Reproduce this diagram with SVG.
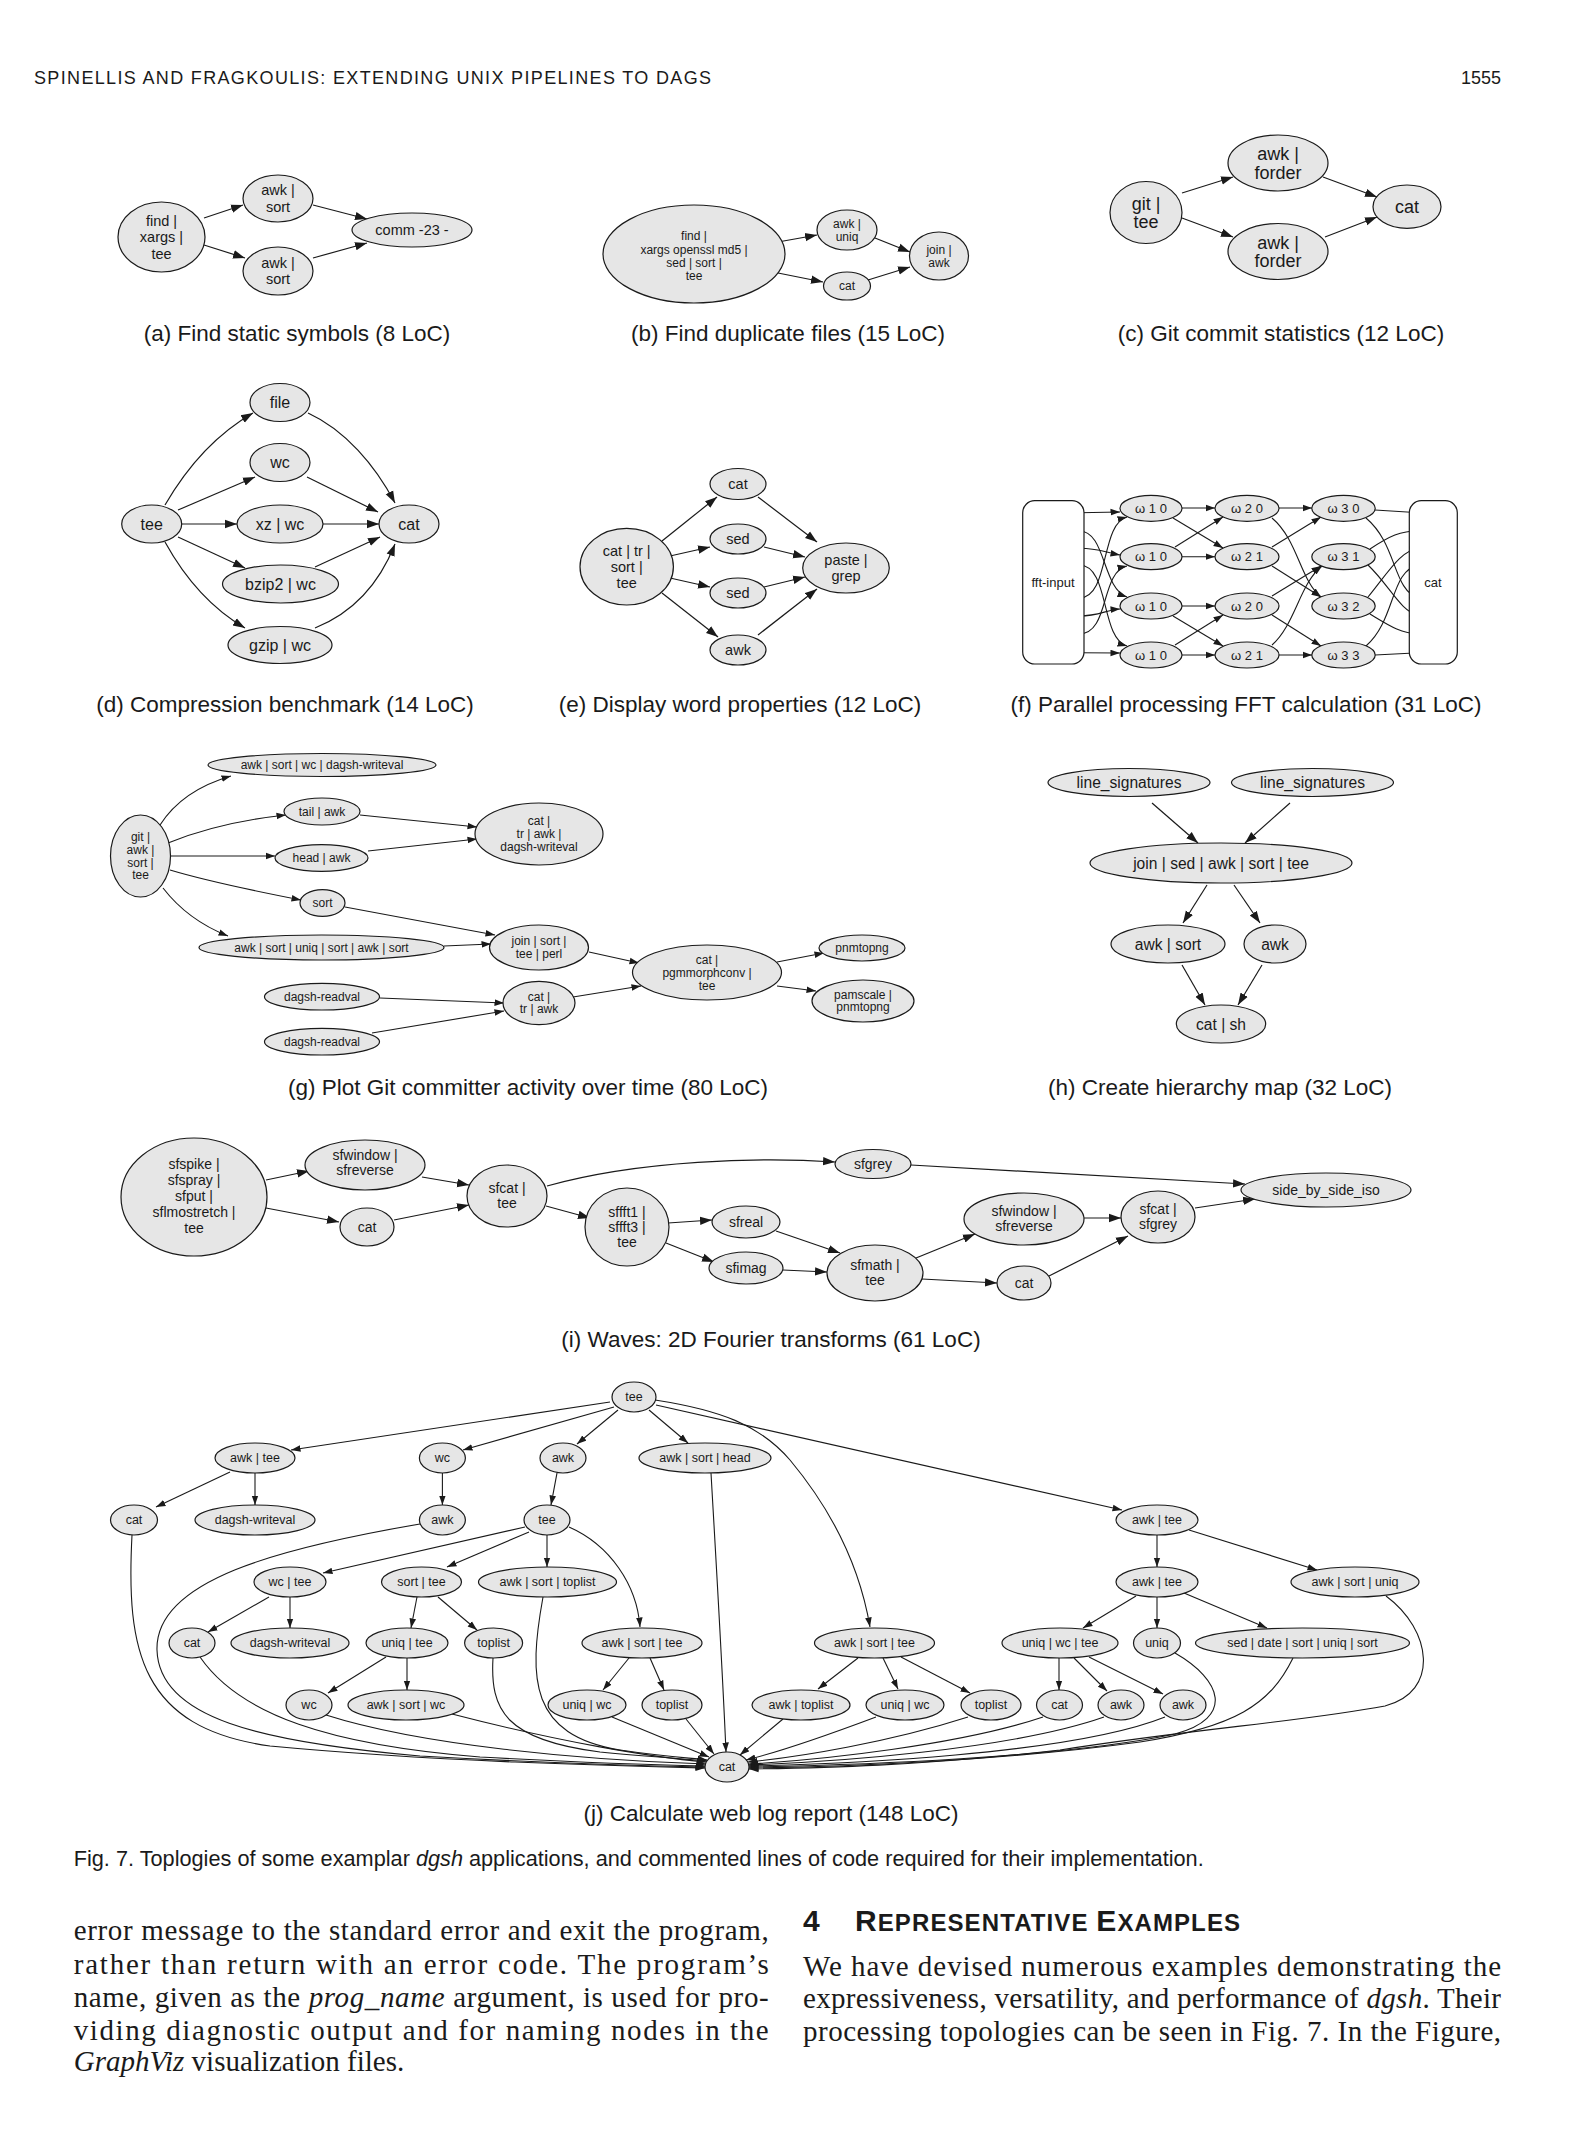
<svg xmlns="http://www.w3.org/2000/svg" width="1569" height="2142" viewBox="0 0 1569 2142">
<defs>
<style>
.n{fill:#e6e6e6;stroke:#1a1a1a;stroke-width:1.2}
.r{fill:#ffffff;stroke:#1a1a1a;stroke-width:1.2}
.e{fill:none;stroke:#1a1a1a;stroke-width:1.2;marker-end:url(#ah)}
.s{fill:none;stroke:#1a1a1a;stroke-width:1.1;marker-end:url(#as)}
text{font-family:"Liberation Sans",Arial,Helvetica,sans-serif;fill:#1a1a1a}
.l{text-anchor:middle}
.fa{font-size:14.5px}
.fb{font-size:12px}
.fc{font-size:18px}
.fd{font-size:16px}
.ff{font-size:13px}
.fg{font-size:12px}
.fh{font-size:15.6px}
.fi{font-size:14px}
.fj{font-size:12.5px}
.cap{font-size:22.5px;text-anchor:middle}
.body{font-family:"Liberation Serif","Times New Roman",serif;font-size:29px}
</style>
<marker id="ah" markerUnits="userSpaceOnUse" markerWidth="13" markerHeight="10" refX="12" refY="5" orient="auto"><path d="M0,0.8 L12,5 L0,9.2z" fill="#1a1a1a"/></marker>
<marker id="as" markerUnits="userSpaceOnUse" markerWidth="10" markerHeight="8" refX="9.5" refY="4" orient="auto"><path d="M0,0.7 L9.5,4 L0,7.3z" fill="#1a1a1a"/></marker>
</defs>
<rect width="1569" height="2142" fill="#ffffff"/>

<text x="34" y="84" font-size="18" textLength="677" lengthAdjust="spacing">SPINELLIS AND FRAGKOULIS: EXTENDING UNIX PIPELINES TO DAGS</text>
<text x="1501" y="84" font-size="18" text-anchor="end">1555</text>

<!-- (a) -->
<g id="edges-a">
<path class="e" d="M204,218 L243,205"/>
<path class="e" d="M204,245 L245,258"/>
<path class="e" d="M313,205 L367,219"/>
<path class="e" d="M313,258 L367,243"/>
</g>
<g id="a-find"><ellipse class="n" cx="161.5" cy="237" rx="43.5" ry="35"/><text class="l fa" x="161.5" y="226"><tspan x="161.5">find |</tspan><tspan x="161.5" dy="16.3">xargs |</tspan><tspan x="161.5" dy="16.3">tee</tspan></text></g>
<g id="a-awk1"><ellipse class="n" cx="278" cy="198.5" rx="35" ry="23.5"/><text class="l fa" x="278" y="195.4"><tspan x="278">awk |</tspan><tspan x="278" dy="16.3">sort</tspan></text></g>
<g id="a-awk2"><ellipse class="n" cx="278" cy="271" rx="35" ry="24"/><text class="l fa" x="278" y="267.9"><tspan x="278">awk |</tspan><tspan x="278" dy="16.3">sort</tspan></text></g>
<g id="a-comm"><ellipse class="n" cx="412" cy="230" rx="60" ry="17"/><text class="l fa" x="412" y="235">comm -23 -</text></g>
<text class="cap" x="297" y="341">(a) Find static symbols (8 LoC)</text>

<!-- (b) -->
<g id="edges-b">
<path class="e" d="M778,242 L817,235"/>
<path class="e" d="M778,273 L823,282"/>
<path class="e" d="M875,238 L910,252"/>
<path class="e" d="M868,280 L910,267"/>
</g>
<g id="b-find"><ellipse class="n" cx="694" cy="254" rx="91" ry="49"/><text class="l fb" x="694" y="240.2"><tspan x="694">find |</tspan><tspan x="694" dy="13.3">xargs openssl md5 |</tspan><tspan x="694" dy="13.3">sed | sort |</tspan><tspan x="694" dy="13.3">tee</tspan></text></g>
<g id="b-awk"><ellipse class="n" cx="847" cy="230" rx="30" ry="20"/><text class="l fb" x="847" y="227.6"><tspan x="847">awk |</tspan><tspan x="847" dy="13.3">uniq</tspan></text></g>
<g id="b-cat"><ellipse class="n" cx="847" cy="286" rx="23.5" ry="14"/><text class="l fb" x="847" y="290.2">cat</text></g>
<g id="b-join"><ellipse class="n" cx="939" cy="256" rx="29.5" ry="24"/><text class="l fb" x="939" y="253.6"><tspan x="939">join |</tspan><tspan x="939" dy="13.3">awk</tspan></text></g>
<text class="cap" x="788" y="341">(b) Find duplicate files (15 LoC)</text>

<!-- (c) -->
<g id="edges-c">
<path class="e" d="M1182,193 L1233,177"/>
<path class="e" d="M1182,218 L1233,237"/>
<path class="e" d="M1323,177 L1377,197"/>
<path class="e" d="M1325,237 L1377,217"/>
</g>
<g id="c-git"><ellipse class="n" cx="1146" cy="212.5" rx="36" ry="31"/><text class="l fc" x="1146" y="209.6"><tspan x="1146">git |</tspan><tspan x="1146" dy="18.3">tee</tspan></text></g>
<g id="c-awk1"><ellipse class="n" cx="1278" cy="163" rx="50" ry="28"/><text class="l fc" x="1278" y="160.2"><tspan x="1278">awk |</tspan><tspan x="1278" dy="18.3">forder</tspan></text></g>
<g id="c-awk2"><ellipse class="n" cx="1278" cy="251.5" rx="50" ry="28"/><text class="l fc" x="1278" y="248.6"><tspan x="1278">awk |</tspan><tspan x="1278" dy="18.3">forder</tspan></text></g>
<g id="c-cat"><ellipse class="n" cx="1407" cy="206.7" rx="34" ry="21.7"/><text class="l fc" x="1407" y="213">cat</text></g>
<text class="cap" x="1281" y="341">(c) Git commit statistics (12 LoC)</text>

<!-- (d) -->
<g id="edges-d">
<path class="e" d="M165,505 C190,462 220,432 253,413"/>
<path class="e" d="M178,510 L255,477"/>
<path class="e" d="M182,524 L237,524"/>
<path class="e" d="M178,537 L245,568"/>
<path class="e" d="M165,542 C186,580 214,610 245,628"/>
<path class="e" d="M308,413 C345,430 375,465 395,503"/>
<path class="e" d="M307,477 L378,512"/>
<path class="e" d="M323,524 L379,524"/>
<path class="e" d="M315,567 L380,537"/>
<path class="e" d="M315,628 C355,612 380,582 395,544"/>
</g>
<g id="d-file"><ellipse class="n" cx="280" cy="402.5" rx="30" ry="19"/><text class="l fd" x="280" y="408">file</text></g>
<g id="d-wc"><ellipse class="n" cx="280" cy="462.5" rx="30" ry="19"/><text class="l fd" x="280" y="468">wc</text></g>
<g id="d-tee"><ellipse class="n" cx="151.7" cy="524" rx="30" ry="19"/><text class="l fd" x="151.7" y="529.6">tee</text></g>
<g id="d-xz"><ellipse class="n" cx="280" cy="524" rx="43" ry="19"/><text class="l fd" x="280" y="529.6">xz | wc</text></g>
<g id="d-cat"><ellipse class="n" cx="409" cy="524" rx="30" ry="19"/><text class="l fd" x="409" y="529.6">cat</text></g>
<g id="d-bzip2"><ellipse class="n" cx="280.5" cy="584" rx="58" ry="19"/><text class="l fd" x="280.5" y="589.6">bzip2 | wc</text></g>
<g id="d-gzip"><ellipse class="n" cx="280" cy="645" rx="52" ry="18.5"/><text class="l fd" x="280" y="650.6">gzip | wc</text></g>
<text class="cap" x="285" y="712">(d) Compression benchmark (14 LoC)</text>

<!-- (e) -->
<g id="edges-e">
<path class="e" d="M662,541 L717,497"/>
<path class="e" d="M670,556 L710,547"/>
<path class="e" d="M670,578 L710,587"/>
<path class="e" d="M662,593 L718,637"/>
<path class="e" d="M758,497 L817,542"/>
<path class="e" d="M764,547 L805,557"/>
<path class="e" d="M764,587 L805,577"/>
<path class="e" d="M758,635 L817,589"/>
</g>
<g id="e-main"><ellipse class="n" cx="626.7" cy="566.7" rx="46.7" ry="38.3"/><text class="l fa" x="626.7" y="555.7"><tspan x="626.7">cat | tr |</tspan><tspan x="626.7" dy="16">sort |</tspan><tspan x="626.7" dy="16">tee</tspan></text></g>
<g id="e-cat"><ellipse class="n" cx="738" cy="484" rx="28" ry="15.5"/><text class="l fa" x="738" y="489">cat</text></g>
<g id="e-sed1"><ellipse class="n" cx="738" cy="539" rx="28" ry="15"/><text class="l fa" x="738" y="544">sed</text></g>
<g id="e-sed2"><ellipse class="n" cx="738" cy="593" rx="28" ry="15"/><text class="l fa" x="738" y="598">sed</text></g>
<g id="e-awk"><ellipse class="n" cx="738" cy="650" rx="28" ry="15"/><text class="l fa" x="738" y="655">awk</text></g>
<g id="e-paste"><ellipse class="n" cx="846" cy="568" rx="43.3" ry="25"/><text class="l fa" x="846" y="565"><tspan x="846">paste |</tspan><tspan x="846" dy="16">grep</tspan></text></g>
<text class="cap" x="740" y="712">(e) Display word properties (12 LoC)</text>

<!-- (f) -->
<g id="edges-f">
<path class="s" d="M1079,512.7 L1120,512"/>
<path class="s" d="M1079,530.7 C1106,531 1102,588 1127,597"/>
<path class="s" d="M1079,548.3 C1096,548 1104,552 1120,555"/>
<path class="s" d="M1079,565 C1110,565 1100,638 1127,646"/>
<path class="s" d="M1079,598.3 C1110,598 1100,524 1127,517"/>
<path class="s" d="M1079,616 C1100,616 1105,610 1120,609"/>
<path class="s" d="M1079,634 C1110,634 1100,572 1127,566"/>
<path class="s" d="M1079,652.7 L1120,653"/>
<path class="s" d="M1182,508 L1215,508"/>
<path class="s" d="M1173,518 L1223,548"/>
<path class="s" d="M1175,547 L1223,517"/>
<path class="s" d="M1182,556.7 L1215,556.7"/>
<path class="s" d="M1182,606 L1215,606"/>
<path class="s" d="M1173,616 L1223,646"/>
<path class="s" d="M1175,645 L1223,615"/>
<path class="s" d="M1182,655 L1215,655"/>
<path class="s" d="M1279,508 L1312,508"/>
<path class="s" d="M1272,518 C1298,540 1300,580 1321,597"/>
<path class="s" d="M1272,547 L1321,517"/>
<path class="s" d="M1272,566 L1321,597"/>
<path class="s" d="M1272,596 L1321,566"/>
<path class="s" d="M1272,615 L1321,646"/>
<path class="s" d="M1272,645 C1295,625 1300,583 1322,566"/>
<path class="s" d="M1279,655 L1312,655"/>
<path class="s" d="M1375,510 L1419,512.7"/>
<path class="s" d="M1366,518 C1398,545 1392,590 1419,598.3"/>
<path class="s" d="M1370,549 C1390,536 1400,531 1419,530.7"/>
<path class="s" d="M1368,565 C1390,586 1400,611 1419,616"/>
<path class="s" d="M1368,597 C1390,570 1400,551 1419,548.3"/>
<path class="s" d="M1370,614 C1390,626 1400,633 1419,634"/>
<path class="s" d="M1366,646 C1396,620 1390,570 1419,565"/>
<path class="s" d="M1375,655 L1419,652.7"/>
</g>
<g id="f-input"><rect class="r" x="1022.7" y="500.7" width="61.3" height="163.3" rx="12"/><text class="l ff" x="1053" y="586.5">fft-input</text></g>
<g id="f-n10a"><ellipse class="n" cx="1151" cy="508.3" rx="31" ry="13"/><text class="l ff" x="1151" y="512.9">ω 1 0</text></g>
<g id="f-n10b"><ellipse class="n" cx="1151" cy="556.7" rx="31" ry="13"/><text class="l ff" x="1151" y="561.3">ω 1 0</text></g>
<g id="f-n10c"><ellipse class="n" cx="1151" cy="606" rx="31" ry="13"/><text class="l ff" x="1151" y="610.6">ω 1 0</text></g>
<g id="f-n10d"><ellipse class="n" cx="1151" cy="655" rx="31" ry="13"/><text class="l ff" x="1151" y="659.6">ω 1 0</text></g>
<g id="f-n20a"><ellipse class="n" cx="1247" cy="508.3" rx="32" ry="13"/><text class="l ff" x="1247" y="512.9">ω 2 0</text></g>
<g id="f-n21a"><ellipse class="n" cx="1247" cy="556.7" rx="32" ry="13"/><text class="l ff" x="1247" y="561.3">ω 2 1</text></g>
<g id="f-n20b"><ellipse class="n" cx="1247" cy="606" rx="32" ry="13"/><text class="l ff" x="1247" y="610.6">ω 2 0</text></g>
<g id="f-n21b"><ellipse class="n" cx="1247" cy="655" rx="32" ry="13"/><text class="l ff" x="1247" y="659.6">ω 2 1</text></g>
<g id="f-n30"><ellipse class="n" cx="1343.5" cy="508.3" rx="31.7" ry="13"/><text class="l ff" x="1343.5" y="512.9">ω 3 0</text></g>
<g id="f-n31"><ellipse class="n" cx="1343.5" cy="556.7" rx="31.7" ry="13"/><text class="l ff" x="1343.5" y="561.3">ω 3 1</text></g>
<g id="f-n32"><ellipse class="n" cx="1343.5" cy="606" rx="31.7" ry="13"/><text class="l ff" x="1343.5" y="610.6">ω 3 2</text></g>
<g id="f-n33"><ellipse class="n" cx="1343.5" cy="655" rx="31.7" ry="13"/><text class="l ff" x="1343.5" y="659.6">ω 3 3</text></g>
<g id="f-cat"><rect class="r" x="1409.3" y="500.7" width="48" height="163.3" rx="12"/><text class="l ff" x="1433" y="586.5">cat</text></g>
<text class="cap" x="1246" y="712">(f) Parallel processing FFT calculation (31 LoC)</text>

<!-- (g) -->
<g id="edges-g">
<path class="s" d="M160,825 C176,800 200,785 231,776"/>
<path class="s" d="M168,843 C200,830 240,820 286,815"/>
<path class="s" d="M171,856 L275,856"/>
<path class="s" d="M170,870 C210,882 260,892 301,900"/>
<path class="s" d="M163,888 C180,910 200,925 228,936"/>
<path class="s" d="M360,815 L477,827"/>
<path class="s" d="M368,851 L477,839"/>
<path class="s" d="M345,907 L495,935"/>
<path class="s" d="M444,946 L491,944"/>
<path class="s" d="M589,952 L639,963"/>
<path class="s" d="M380,998 L504,1003"/>
<path class="s" d="M372,1033 L504,1011"/>
<path class="s" d="M573,997 L641,986"/>
<path class="s" d="M777,962 L824,953"/>
<path class="s" d="M777,986 L816,991"/>
</g>
<g id="g-git"><ellipse class="n" cx="140.5" cy="856" rx="30" ry="41"/><text class="l fg" x="140.5" y="841"><tspan x="140.5">git |</tspan><tspan x="140.5" dy="12.8">awk |</tspan><tspan x="140.5" dy="12.8">sort |</tspan><tspan x="140.5" dy="12.8">tee</tspan></text></g>
<g id="g-wc"><ellipse class="n" cx="322" cy="765" rx="114" ry="11.5"/><text class="l fg" x="322" y="769.2">awk | sort | wc | dagsh-writeval</text></g>
<g id="g-tail"><ellipse class="n" cx="322" cy="811.5" rx="38" ry="13.5"/><text class="l fg" x="322" y="815.7">tail | awk</text></g>
<g id="g-head"><ellipse class="n" cx="321.5" cy="858" rx="46.5" ry="13.3"/><text class="l fg" x="321.5" y="862.2">head | awk</text></g>
<g id="g-cattr"><ellipse class="n" cx="539" cy="834" rx="64" ry="31"/><text class="l fg" x="539" y="825.4"><tspan x="539">cat |</tspan><tspan x="539" dy="12.8">tr | awk |</tspan><tspan x="539" dy="12.8">dagsh-writeval</tspan></text></g>
<g id="g-sort"><ellipse class="n" cx="322.5" cy="903" rx="22.5" ry="13.3"/><text class="l fg" x="322.5" y="907.2">sort</text></g>
<g id="g-uniq"><ellipse class="n" cx="321.5" cy="947.5" rx="122.5" ry="12.5"/><text class="l fg" x="321.5" y="951.7">awk | sort | uniq | sort | awk | sort</text></g>
<g id="g-join"><ellipse class="n" cx="539" cy="947.5" rx="49.5" ry="22.5"/><text class="l fg" x="539" y="945.1"><tspan x="539">join | sort |</tspan><tspan x="539" dy="12.8">tee | perl</tspan></text></g>
<g id="g-pgm"><ellipse class="n" cx="707" cy="972.5" rx="74.5" ry="27.5"/><text class="l fg" x="707" y="963.9"><tspan x="707">cat |</tspan><tspan x="707" dy="12.8">pgmmorphconv |</tspan><tspan x="707" dy="12.8">tee</tspan></text></g>
<g id="g-pnm"><ellipse class="n" cx="862" cy="948" rx="43" ry="13"/><text class="l fg" x="862" y="952.2">pnmtopng</text></g>
<g id="g-pam"><ellipse class="n" cx="863" cy="1001" rx="51" ry="21"/><text class="l fg" x="863" y="998.6"><tspan x="863">pamscale |</tspan><tspan x="863" dy="12.8">pnmtopng</tspan></text></g>
<g id="g-rv1"><ellipse class="n" cx="322" cy="996.7" rx="57.5" ry="13.3"/><text class="l fg" x="322" y="1000.9">dagsh-readval</text></g>
<g id="g-rv2"><ellipse class="n" cx="322" cy="1041.7" rx="57.5" ry="13.3"/><text class="l fg" x="322" y="1045.9">dagsh-readval</text></g>
<g id="g-cat"><ellipse class="n" cx="539" cy="1003" rx="36" ry="21.7"/><text class="l fg" x="539" y="1000.6"><tspan x="539">cat |</tspan><tspan x="539" dy="12.8">tr | awk</tspan></text></g>
<text class="cap" x="528" y="1095">(g) Plot Git committer activity over time (80 LoC)</text>

<!-- (h) -->
<g id="edges-h">
<path class="e" d="M1152,803 L1198,843"/>
<path class="e" d="M1290,803 L1245,843"/>
<path class="e" d="M1207,885 L1183,923"/>
<path class="e" d="M1234,885 L1260,923"/>
<path class="e" d="M1182,965 L1205,1005"/>
<path class="e" d="M1262,965 L1238,1005"/>
</g>
<g id="h-ls1"><ellipse class="n" cx="1129" cy="782.5" rx="81" ry="14"/><text class="l fh" x="1129" y="788">line_signatures</text></g>
<g id="h-ls2"><ellipse class="n" cx="1312.5" cy="782.5" rx="81" ry="14"/><text class="l fh" x="1312.5" y="788">line_signatures</text></g>
<g id="h-join"><ellipse class="n" cx="1221" cy="863" rx="131" ry="20"/><text class="l fh" x="1221" y="868.5">join | sed | awk | sort | tee</text></g>
<g id="h-awksort"><ellipse class="n" cx="1168" cy="944" rx="57" ry="19"/><text class="l fh" x="1168" y="949.5">awk | sort</text></g>
<g id="h-awk"><ellipse class="n" cx="1275" cy="944" rx="31" ry="19"/><text class="l fh" x="1275" y="949.5">awk</text></g>
<g id="h-cat"><ellipse class="n" cx="1221" cy="1024" rx="44.7" ry="19"/><text class="l fh" x="1221" y="1029.5">cat | sh</text></g>
<text class="cap" x="1220" y="1095">(h) Create hierarchy map (32 LoC)</text>

<!-- (i) -->
<g id="edges-i">
<path class="e" d="M266,1180 L309,1171"/>
<path class="e" d="M266,1208 L339,1222"/>
<path class="e" d="M422,1177 L469,1185"/>
<path class="e" d="M394,1220 L469,1205"/>
<path class="e" d="M547,1186 C640,1160 760,1157 835,1162"/>
<path class="e" d="M546,1206 L590,1218"/>
<path class="e" d="M911,1165 L1245,1184"/>
<path class="e" d="M668,1223 L712,1220"/>
<path class="e" d="M666,1243 L714,1262"/>
<path class="e" d="M776,1231 L840,1253"/>
<path class="e" d="M783,1270 L827,1272"/>
<path class="e" d="M916,1258 L975,1234"/>
<path class="e" d="M922,1279 L997,1283"/>
<path class="e" d="M1084,1218 L1121,1218"/>
<path class="e" d="M1049,1276 L1128,1236"/>
<path class="e" d="M1195,1208 L1255,1199"/>
</g>
<g id="i-sfspike"><ellipse class="n" cx="194" cy="1197" rx="73" ry="59"/><text class="l fi" x="194" y="1168.5"><tspan x="194">sfspike |</tspan><tspan x="194" dy="16">sfspray |</tspan><tspan x="194" dy="16">sfput |</tspan><tspan x="194" dy="16">sflmostretch |</tspan><tspan x="194" dy="16">tee</tspan></text></g>
<g id="i-sfwindow1"><ellipse class="n" cx="365" cy="1165" rx="60" ry="25"/><text class="l fi" x="365" y="1160.4"><tspan x="365">sfwindow |</tspan><tspan x="365" dy="15">sfreverse</tspan></text></g>
<g id="i-cat1"><ellipse class="n" cx="367" cy="1227" rx="27" ry="19"/><text class="l fi" x="367" y="1231.9">cat</text></g>
<g id="i-sfcat1"><ellipse class="n" cx="507" cy="1196" rx="40" ry="31"/><text class="l fi" x="507" y="1193.4"><tspan x="507">sfcat |</tspan><tspan x="507" dy="15">tee</tspan></text></g>
<g id="i-sfgrey"><ellipse class="n" cx="873" cy="1164" rx="38" ry="14.5"/><text class="l fi" x="873" y="1168.9">sfgrey</text></g>
<g id="i-side"><ellipse class="n" cx="1326" cy="1190" rx="85" ry="17"/><text class="l fi" x="1326" y="1194.9">side_by_side_iso</text></g>
<g id="i-sffft"><ellipse class="n" cx="627" cy="1227" rx="42" ry="39"/><text class="l fi" x="627" y="1216.9"><tspan x="627">sffft1 |</tspan><tspan x="627" dy="15">sffft3 |</tspan><tspan x="627" dy="15">tee</tspan></text></g>
<g id="i-sfreal"><ellipse class="n" cx="746" cy="1222" rx="34" ry="16"/><text class="l fi" x="746" y="1226.9">sfreal</text></g>
<g id="i-sfimag"><ellipse class="n" cx="746" cy="1268" rx="37" ry="16"/><text class="l fi" x="746" y="1272.9">sfimag</text></g>
<g id="i-sfmath"><ellipse class="n" cx="875" cy="1273" rx="48" ry="28"/><text class="l fi" x="875" y="1270.4"><tspan x="875">sfmath |</tspan><tspan x="875" dy="15">tee</tspan></text></g>
<g id="i-sfwindow2"><ellipse class="n" cx="1024" cy="1219" rx="60" ry="26"/><text class="l fi" x="1024" y="1216.4"><tspan x="1024">sfwindow |</tspan><tspan x="1024" dy="15">sfreverse</tspan></text></g>
<g id="i-cat2"><ellipse class="n" cx="1024" cy="1283" rx="27" ry="17"/><text class="l fi" x="1024" y="1287.9">cat</text></g>
<g id="i-sfcat2"><ellipse class="n" cx="1158" cy="1217" rx="37" ry="26"/><text class="l fi" x="1158" y="1214.4"><tspan x="1158">sfcat |</tspan><tspan x="1158" dy="15">sfgrey</tspan></text></g>
<text class="cap" x="771" y="1347">(i) Waves: 2D Fourier transforms (61 LoC)</text>

<!-- (j) -->
<g id="edges-j">
<path class="s" d="M610,1402 L291,1450"/>
<path class="s" d="M614,1407 L463,1450"/>
<path class="s" d="M618,1410 L577,1444"/>
<path class="s" d="M649,1410 L688,1443"/>
<path class="s" d="M655,1400 C720,1410 760,1425 790,1460 C840,1520 862,1580 870,1627"/>
<path class="s" d="M656,1405 L1122,1510"/>
<path class="s" d="M230,1472 L156,1507"/>
<path class="s" d="M255,1473 L255,1505"/>
<path class="s" d="M442.4,1473 L442.4,1505"/>
<path class="s" d="M557,1473 L551,1505"/>
<path class="s" d="M525,1527 L323,1573"/>
<path class="s" d="M529,1532 L447,1567"/>
<path class="s" d="M547,1535 L547,1567"/>
<path class="s" d="M569,1527 C610,1545 637,1585 640,1627"/>
<path class="s" d="M269,1597 L208,1632"/>
<path class="s" d="M290,1597 L290,1628"/>
<path class="s" d="M417,1597 L411,1628"/>
<path class="s" d="M438,1597 L477,1630"/>
<path class="s" d="M386,1657 L328,1693"/>
<path class="s" d="M407,1658 L407,1690"/>
<path class="s" d="M629,1658 L603,1690"/>
<path class="s" d="M650,1658 L664,1690"/>
<path class="s" d="M1157,1535 L1157,1567"/>
<path class="s" d="M1189,1530 L1317,1570"/>
<path class="s" d="M1136,1596 L1083,1628"/>
<path class="s" d="M1157,1597 L1157,1628"/>
<path class="s" d="M1184,1593 L1267,1628"/>
<path class="s" d="M858,1658 L818,1689"/>
<path class="s" d="M883,1658 L898,1689"/>
<path class="s" d="M901,1657 L970,1693"/>
<path class="s" d="M1059,1658 L1059,1690"/>
<path class="s" d="M1074,1658 L1107,1691"/>
<path class="s" d="M1089,1657 L1163,1694"/>
<path class="s" d="M132,1535 C126,1650 140,1728 270,1746 C440,1762 620,1766 705,1768"/>
<path class="s" d="M420,1524 C280,1548 155,1580 157,1650 C159,1718 260,1742 420,1756 C560,1764 650,1766 705,1767"/>
<path class="s" d="M200,1657 C240,1715 330,1745 480,1757 C590,1763 660,1765 705,1766"/>
<path class="s" d="M326,1715 C420,1745 580,1760 706,1764"/>
<path class="s" d="M452,1714 C560,1742 650,1757 706,1762"/>
<path class="s" d="M493,1658 C490,1710 505,1740 600,1752 C650,1757 690,1759 707,1761"/>
<path class="s" d="M543,1597 C528,1680 530,1735 620,1750 C660,1756 690,1758 707,1760"/>
<path class="s" d="M612,1717 L709,1757"/>
<path class="s" d="M686,1719 L714,1754"/>
<path class="s" d="M711,1473 C716,1560 722,1660 726,1752"/>
<path class="s" d="M783,1719 L740,1755"/>
<path class="s" d="M876,1717 C820,1738 775,1753 746,1760"/>
<path class="s" d="M968,1717 C890,1742 800,1757 748,1762"/>
<path class="s" d="M1043,1717 C960,1745 820,1760 749,1764"/>
<path class="s" d="M1104,1717 C1010,1750 830,1762 749,1765"/>
<path class="s" d="M1165,1717 C1070,1755 840,1764 749,1766"/>
<path class="s" d="M1175,1653 C1222,1680 1235,1718 1175,1734 C1060,1758 860,1765 749,1767"/>
<path class="s" d="M1293,1658 C1270,1705 1235,1727 1140,1742 C1000,1761 840,1767 749,1768"/>
<path class="s" d="M1386,1596 C1432,1630 1440,1692 1385,1706 C1300,1722 1200,1728 1060,1750 C920,1766 820,1768 749,1769"/>
</g>
<g id="j-tee0"><ellipse class="n" cx="634" cy="1397" rx="22" ry="15"/><text class="l fj" x="634" y="1401.4">tee</text></g>
<g id="j-awktee1"><ellipse class="n" cx="255" cy="1458" rx="40" ry="15"/><text class="l fj" x="255" y="1462.4">awk | tee</text></g>
<g id="j-wc1"><ellipse class="n" cx="442.4" cy="1458" rx="23" ry="15"/><text class="l fj" x="442.4" y="1462.4">wc</text></g>
<g id="j-awk1"><ellipse class="n" cx="563" cy="1458" rx="23" ry="15"/><text class="l fj" x="563" y="1462.4">awk</text></g>
<g id="j-head"><ellipse class="n" cx="705" cy="1458" rx="66" ry="15"/><text class="l fj" x="705" y="1462.4">awk | sort | head</text></g>
<g id="j-cat2"><ellipse class="n" cx="134" cy="1520" rx="23.5" ry="15"/><text class="l fj" x="134" y="1524.4">cat</text></g>
<g id="j-dw2"><ellipse class="n" cx="255" cy="1520" rx="60" ry="15"/><text class="l fj" x="255" y="1524.4">dagsh-writeval</text></g>
<g id="j-awk2"><ellipse class="n" cx="442.4" cy="1520" rx="23" ry="15"/><text class="l fj" x="442.4" y="1524.4">awk</text></g>
<g id="j-tee2"><ellipse class="n" cx="547" cy="1520" rx="23" ry="15"/><text class="l fj" x="547" y="1524.4">tee</text></g>
<g id="j-awktee2"><ellipse class="n" cx="1157" cy="1520" rx="41" ry="15"/><text class="l fj" x="1157" y="1524.4">awk | tee</text></g>
<g id="j-wctee"><ellipse class="n" cx="290" cy="1582" rx="36" ry="15"/><text class="l fj" x="290" y="1586.4">wc | tee</text></g>
<g id="j-sorttee"><ellipse class="n" cx="421.5" cy="1582" rx="40" ry="15"/><text class="l fj" x="421.5" y="1586.4">sort | tee</text></g>
<g id="j-toplist3"><ellipse class="n" cx="547.5" cy="1582" rx="69" ry="15"/><text class="l fj" x="547.5" y="1586.4">awk | sort | toplist</text></g>
<g id="j-awktee3"><ellipse class="n" cx="1157" cy="1582" rx="41" ry="15"/><text class="l fj" x="1157" y="1586.4">awk | tee</text></g>
<g id="j-sortuniq"><ellipse class="n" cx="1355" cy="1582" rx="64" ry="15"/><text class="l fj" x="1355" y="1586.4">awk | sort | uniq</text></g>
<g id="j-cat4"><ellipse class="n" cx="192" cy="1643" rx="23" ry="15"/><text class="l fj" x="192" y="1647.4">cat</text></g>
<g id="j-dw4"><ellipse class="n" cx="290" cy="1643" rx="59" ry="15"/><text class="l fj" x="290" y="1647.4">dagsh-writeval</text></g>
<g id="j-uniqtee"><ellipse class="n" cx="407" cy="1643" rx="41" ry="15"/><text class="l fj" x="407" y="1647.4">uniq | tee</text></g>
<g id="j-toplist4"><ellipse class="n" cx="493.6" cy="1643" rx="29" ry="15"/><text class="l fj" x="493.6" y="1647.4">toplist</text></g>
<g id="j-ast1"><ellipse class="n" cx="642" cy="1643" rx="60" ry="15"/><text class="l fj" x="642" y="1647.4">awk | sort | tee</text></g>
<g id="j-ast2"><ellipse class="n" cx="874.5" cy="1643" rx="60" ry="15"/><text class="l fj" x="874.5" y="1647.4">awk | sort | tee</text></g>
<g id="j-uwt"><ellipse class="n" cx="1060" cy="1643" rx="58" ry="15"/><text class="l fj" x="1060" y="1647.4">uniq | wc | tee</text></g>
<g id="j-uniq4"><ellipse class="n" cx="1157" cy="1643" rx="23.5" ry="15"/><text class="l fj" x="1157" y="1647.4">uniq</text></g>
<g id="j-sed"><ellipse class="n" cx="1302.5" cy="1643" rx="107" ry="15"/><text class="l fj" x="1302.5" y="1647.4">sed | date | sort | uniq | sort</text></g>
<g id="j-wc5"><ellipse class="n" cx="309" cy="1705" rx="23" ry="15"/><text class="l fj" x="309" y="1709.4">wc</text></g>
<g id="j-asw"><ellipse class="n" cx="406" cy="1705" rx="58" ry="15"/><text class="l fj" x="406" y="1709.4">awk | sort | wc</text></g>
<g id="j-uw1"><ellipse class="n" cx="587" cy="1705" rx="39" ry="15"/><text class="l fj" x="587" y="1709.4">uniq | wc</text></g>
<g id="j-tl1"><ellipse class="n" cx="672" cy="1705" rx="30" ry="15"/><text class="l fj" x="672" y="1709.4">toplist</text></g>
<g id="j-atl"><ellipse class="n" cx="801" cy="1705" rx="49" ry="15"/><text class="l fj" x="801" y="1709.4">awk | toplist</text></g>
<g id="j-uw2"><ellipse class="n" cx="905" cy="1705" rx="39" ry="15"/><text class="l fj" x="905" y="1709.4">uniq | wc</text></g>
<g id="j-tl2"><ellipse class="n" cx="991" cy="1705" rx="30" ry="15"/><text class="l fj" x="991" y="1709.4">toplist</text></g>
<g id="j-cat5"><ellipse class="n" cx="1059.5" cy="1705" rx="23" ry="15"/><text class="l fj" x="1059.5" y="1709.4">cat</text></g>
<g id="j-awk5a"><ellipse class="n" cx="1121" cy="1705" rx="23" ry="15"/><text class="l fj" x="1121" y="1709.4">awk</text></g>
<g id="j-awk5b"><ellipse class="n" cx="1183" cy="1705" rx="23" ry="15"/><text class="l fj" x="1183" y="1709.4">awk</text></g>
<g id="j-catend"><ellipse class="n" cx="727" cy="1767" rx="22" ry="15"/><text class="l fj" x="727" y="1771.4">cat</text></g>
<text class="cap" x="771" y="1821">(j) Calculate web log report (148 LoC)</text>

<text x="73.7" y="1866" font-size="21.7" textLength="1130" lengthAdjust="spacing">Fig. 7. Toplogies of some examplar <tspan font-style="italic">dgsh</tspan> applications, and commented lines of code required for their implementation.</text>

<text class="body" x="73.7" y="1940" textLength="695" lengthAdjust="spacing">error message to the standard error and exit the program,</text>
<text class="body" x="73.7" y="1974" textLength="695" lengthAdjust="spacing">rather than return with an error code. The program’s</text>
<text class="body" x="73.7" y="2007" textLength="695" lengthAdjust="spacing">name, given as the <tspan font-style="italic">prog_name</tspan> argument, is used for pro-</text>
<text class="body" x="73.7" y="2040" textLength="695" lengthAdjust="spacing">viding diagnostic output and for naming nodes in the</text>
<text class="body" x="73.7" y="2071"><tspan font-style="italic">GraphViz</tspan> visualization files.</text>

<text x="803" y="1931" font-size="30" font-weight="bold">4</text>
<text x="855" y="1931" font-weight="bold" textLength="385" lengthAdjust="spacing"><tspan font-size="30">R</tspan><tspan font-size="24">EPRESENTATIVE </tspan><tspan font-size="30">E</tspan><tspan font-size="24">XAMPLES</tspan></text>
<text class="body" x="803" y="1976" textLength="698" lengthAdjust="spacing">We have devised numerous examples demonstrating the</text>
<text class="body" x="803" y="2008" textLength="698" lengthAdjust="spacing">expressiveness, versatility, and performance of <tspan font-style="italic">dgsh</tspan>. Their</text>
<text class="body" x="803" y="2041" textLength="698" lengthAdjust="spacing">processing topologies can be seen in Fig. 7. In the Figure,</text>
</svg>
